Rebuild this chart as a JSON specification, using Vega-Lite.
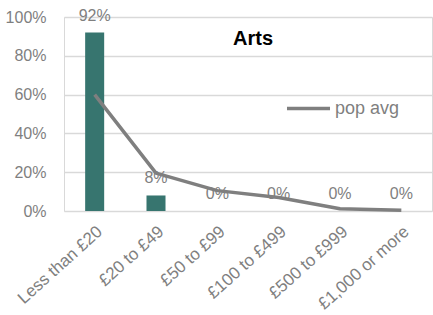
{
  "$schema": "https://vega.github.io/schema/vega-lite/v6.json",
  "autosize": "none",
  "width": 368,
  "height": 194,
  "padding": {"left": 64, "top": 17, "right": 1, "bottom": 104},
  "background": "white",
  "config": {
    "view": {"stroke": "#d9d9d9", "strokeWidth": 1},
    "font": "Liberation Sans"
  },
  "title": {
    "text": "Arts",
    "anchor": "middle",
    "frame": "group",
    "dx": 5,
    "dy": 45,
    "fontSize": 20,
    "fontWeight": "bold",
    "color": "#000000",
    "font": "Liberation Sans"
  },
  "data": {
    "values": [
      {"cat": "Less than £20", "value": 0.92, "label": "92%", "pop": 0.60},
      {"cat": "£20 to £49", "value": 0.08, "label": "8%", "pop": 0.195},
      {"cat": "£50 to £99", "value": 0.0, "label": "0%", "pop": 0.105},
      {"cat": "£100 to £499", "value": 0.0, "label": "0%", "pop": 0.07},
      {"cat": "£500 to £999", "value": 0.0, "label": "0%", "pop": 0.012},
      {"cat": "£1,000 or more", "value": 0.0, "label": "0%", "pop": 0.004}
    ]
  },
  "encoding": {
    "x": {
      "field": "cat",
      "type": "nominal",
      "sort": null,
      "scale": {"paddingInner": 0.69, "paddingOuter": 0.345},
      "axis": {
        "title": null,
        "labelAngle": -42,
        "labelFontSize": 17,
        "labelColor": "#7f7f7f",
        "labelPadding": 12,
        "labelOverlap": false,
        "ticks": false,
        "domain": false,
        "grid": false
      }
    },
    "y": {
      "field": "value",
      "type": "quantitative",
      "scale": {"domain": [0, 1], "nice": false},
      "axis": {
        "title": null,
        "values": [0, 0.2, 0.4, 0.6, 0.8, 1],
        "format": ".0%",
        "labelFontSize": 16,
        "labelColor": "#7f7f7f",
        "labelPadding": 18,
        "labelOverlap": false,
        "labelBound": false,
        "labelFlush": false,
        "ticks": false,
        "domain": false,
        "grid": true,
        "gridColor": "#d9d9d9",
        "gridWidth": 1.5
      }
    }
  },
  "layer": [
    {
      "mark": {"type": "bar", "color": "#37756f"}
    },
    {
      "mark": {"type": "text", "dy": -17, "fontSize": 16, "color": "#7f7f7f", "baseline": "middle"},
      "encoding": {
        "text": {"field": "label"}
      }
    },
    {
      "mark": {"type": "line", "strokeWidth": 3.5, "strokeJoin": "round", "strokeCap": "butt"},
      "encoding": {
        "y": {"field": "pop", "type": "quantitative"},
        "color": {
          "datum": "pop avg",
          "scale": {"range": ["#7f7f7f"]},
          "legend": {
            "title": null,
            "orient": "none",
            "legendX": 221,
            "legendY": 68,
            "symbolType": "stroke",
            "symbolSize": 1850,
            "symbolStrokeWidth": 3.5,
            "labelFontSize": 18,
            "labelColor": "#7f7f7f",
            "labelOffset": 3
          }
        }
      }
    }
  ]
}
